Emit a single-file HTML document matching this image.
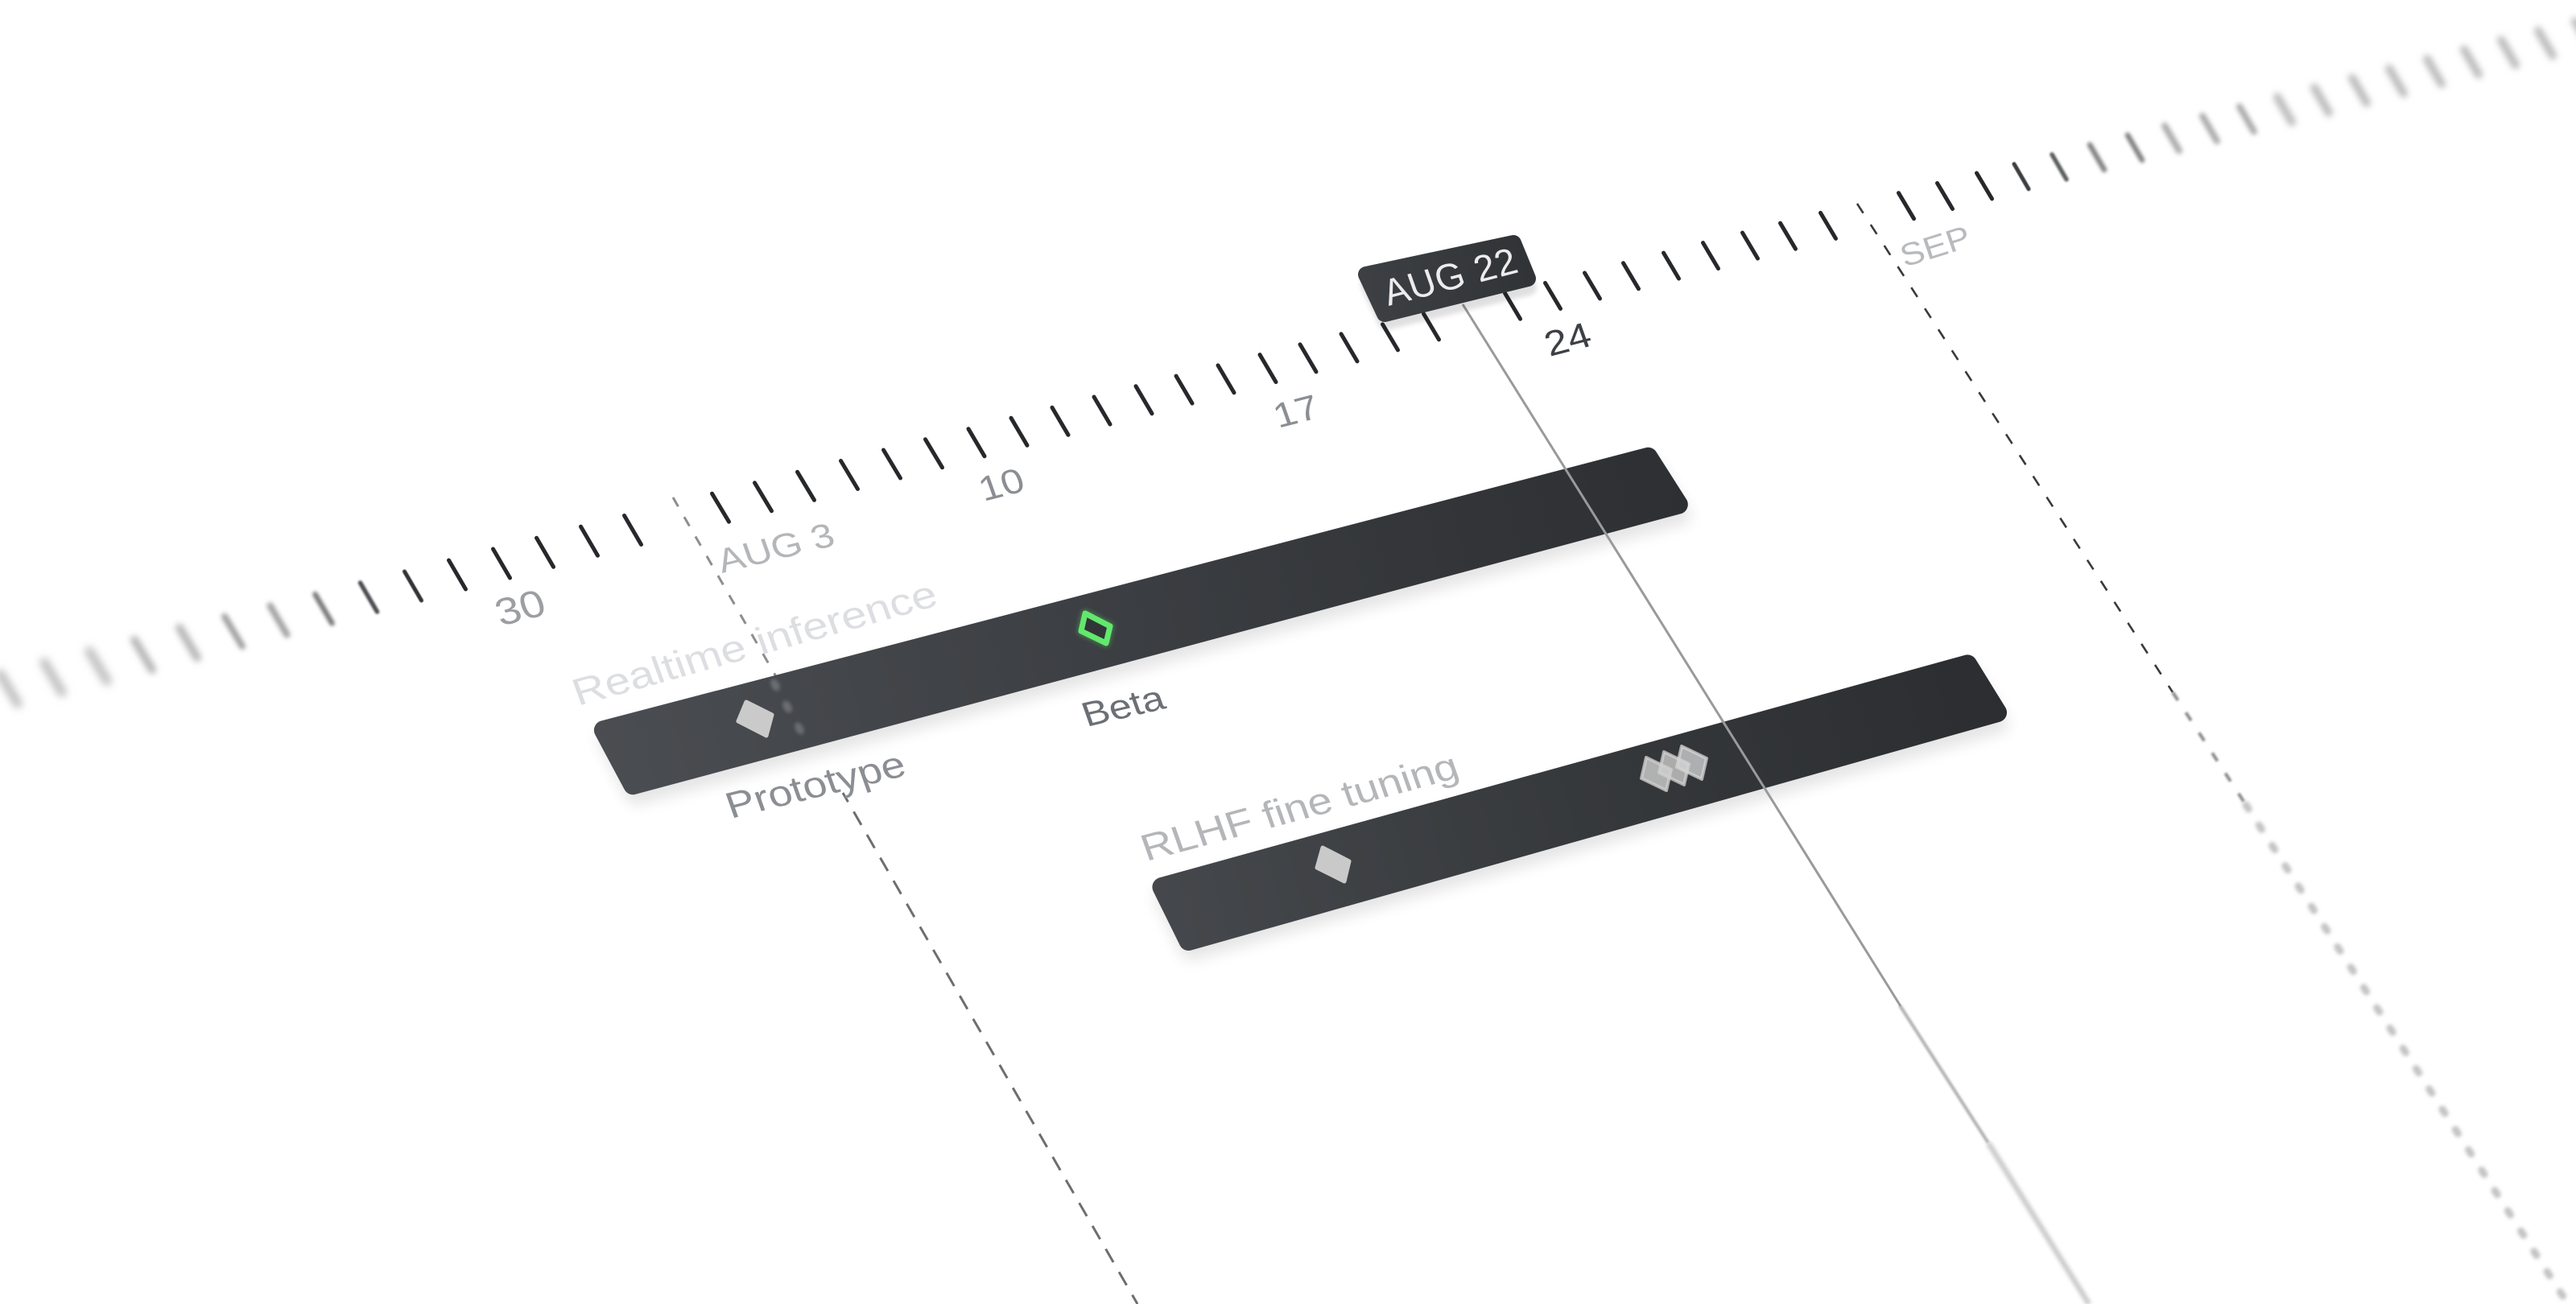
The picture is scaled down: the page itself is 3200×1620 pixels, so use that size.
<!DOCTYPE html>
<html><head><meta charset="utf-8">
<style>
html,body{margin:0;padding:0;background:#fff;width:3200px;height:1620px;overflow:hidden}
svg{display:block}
text{font-family:"Liberation Sans",Arial,sans-serif}
</style></head>
<body>
<svg width="3200" height="1620" viewBox="0 0 3200 1620" xmlns="http://www.w3.org/2000/svg">
<defs>
  <filter id="f05" filterUnits="userSpaceOnUse" x="-100" y="-100" width="3400" height="1820"><feGaussianBlur stdDeviation="0.6"/></filter>
  <filter id="f1" filterUnits="userSpaceOnUse" x="-100" y="-100" width="3400" height="1820"><feGaussianBlur stdDeviation="1.2"/></filter>
  <filter id="f2" filterUnits="userSpaceOnUse" x="-100" y="-100" width="3400" height="1820"><feGaussianBlur stdDeviation="2"/></filter>
  <filter id="f3" filterUnits="userSpaceOnUse" x="-100" y="-100" width="3400" height="1820"><feGaussianBlur stdDeviation="3"/></filter>
  <filter id="f4" filterUnits="userSpaceOnUse" x="-100" y="-100" width="3400" height="1820"><feGaussianBlur stdDeviation="4"/></filter>
  <filter id="f5" filterUnits="userSpaceOnUse" x="-100" y="-100" width="3400" height="1820"><feGaussianBlur stdDeviation="5"/></filter>
  <filter id="fs" filterUnits="userSpaceOnUse" x="-100" y="-100" width="3400" height="1820"><feGaussianBlur stdDeviation="9"/></filter>
  <linearGradient id="g1" gradientUnits="userSpaceOnUse" x1="740" y1="940" x2="2096" y2="600">
    <stop offset="0" stop-color="#4a4d51"/>
    <stop offset="0.45" stop-color="#3c3f43"/>
    <stop offset="1" stop-color="#2d2f32"/>
  </linearGradient>
  <linearGradient id="g2" gradientUnits="userSpaceOnUse" x1="1431" y1="1140" x2="2490" y2="850">
    <stop offset="0" stop-color="#45484c"/>
    <stop offset="0.5" stop-color="#36393c"/>
    <stop offset="1" stop-color="#2b2d30"/>
  </linearGradient>
  <linearGradient id="gb" gradientUnits="userSpaceOnUse" x1="1685" y1="370" x2="1910" y2="320">
    <stop offset="0" stop-color="#3d4044"/>
    <stop offset="1" stop-color="#303336"/>
  </linearGradient>
</defs>

<rect width="3200" height="1620" fill="#fff"/>

<!-- ===== ticks, left blurred ===== -->
<g stroke-linecap="round" fill="none">
  <g stroke="#bdbdbd" stroke-width="11" filter="url(#f5)">
    <line x1="0" y1="837" x2="22" y2="874"/>
    <line x1="55" y1="823" x2="77" y2="860"/>
    <line x1="111" y1="809" x2="133" y2="846"/>
  </g>
  <g stroke="#b5b5b5" stroke-width="10" filter="url(#f4)">
    <line x1="167" y1="795" x2="189" y2="832"/>
    <line x1="223" y1="780" x2="245" y2="817"/>
  </g>
  <g stroke="#a0a0a0" stroke-width="8" filter="url(#f3)">
    <line x1="279" y1="766" x2="301" y2="803"/>
    <line x1="335.5" y1="752.5" x2="356.5" y2="788.5"/>
  </g>
  <g stroke="#777" stroke-width="6.5" filter="url(#f2)">
    <line x1="391.5" y1="738.3" x2="412.5" y2="774.3"/>
  </g>
  <g stroke="#4a4c50" stroke-width="5.5" filter="url(#f1)">
    <line x1="447.5" y1="724" x2="468.5" y2="760"/>
  </g>
  <g stroke="#303235" stroke-width="5" filter="url(#f05)">
    <line x1="502.5" y1="710" x2="523.5" y2="746"/>
  </g>
  <!-- sharp ticks -->
  <g stroke="#26282b" stroke-width="5">
    <line x1="557.5" y1="696" x2="578.5" y2="732"/>
    <line x1="612.5" y1="682" x2="633.5" y2="718"/>
    <line x1="666.5" y1="668.3" x2="687.5" y2="704.3"/>
    <line x1="721.5" y1="654.2" x2="742.5" y2="690.2"/>
    <line x1="775.5" y1="640.5" x2="796.5" y2="676.5"/>
    <line x1="884.5" y1="613.2" x2="905.5" y2="648.2"/>
    <line x1="937.5" y1="599.8" x2="958.5" y2="634.8"/>
    <line x1="990.5" y1="586.3" x2="1011.5" y2="621.3"/>
    <line x1="1044.5" y1="572.5" x2="1065.5" y2="607.5"/>
    <line x1="1097.5" y1="559" x2="1118.5" y2="594"/>
    <line x1="1149.5" y1="545.8" x2="1170.5" y2="580.8"/>
    <line x1="1203" y1="532.8" x2="1223" y2="566.8"/>
    <line x1="1256" y1="519.3" x2="1276" y2="553.3"/>
    <line x1="1307" y1="506.3" x2="1327" y2="540.3"/>
    <line x1="1359" y1="493.1" x2="1379" y2="527.1"/>
    <line x1="1411" y1="479.8" x2="1431" y2="513.8"/>
    <line x1="1461" y1="467.1" x2="1481" y2="501.1"/>
    <line x1="1513" y1="453.9" x2="1533" y2="487.9"/>
    <line x1="1565" y1="440.6" x2="1585" y2="474.6"/>
    <line x1="1615" y1="427.9" x2="1635" y2="461.9"/>
    <line x1="1666" y1="414.9" x2="1686" y2="448.9"/>
    <line x1="1717.5" y1="402.9" x2="1736.5" y2="434.9"/>
    <line x1="1768.5" y1="389.9" x2="1787.5" y2="421.9"/>
    <line x1="1869.5" y1="364.2" x2="1888.5" y2="396.2"/>
    <line x1="1919.5" y1="351.5" x2="1938.5" y2="383.5"/>
    <line x1="1968.5" y1="339" x2="1987.5" y2="371"/>
    <line x1="2016.5" y1="326.8" x2="2035.5" y2="358.8"/>
    <line x1="2066.5" y1="314.1" x2="2085.5" y2="346.1"/>
    <line x1="2115.5" y1="301.6" x2="2134.5" y2="333.6"/>
    <line x1="2164.5" y1="289.1" x2="2183.5" y2="321.1"/>
    <line x1="2211.5" y1="277.2" x2="2230.5" y2="309.2"/>
    <line x1="2261.5" y1="264.4" x2="2280.5" y2="296.4"/>
    <line x1="2358.5" y1="239.7" x2="2377.5" y2="271.7"/>
    <line x1="2406.5" y1="227.5" x2="2425.5" y2="259.5"/>
    <line x1="2455.5" y1="215" x2="2474.5" y2="247"/>
  </g>
  <!-- right blurred -->
  <g stroke="#3a3c3f" stroke-width="5" filter="url(#f05)">
    <line x1="2502" y1="203.8" x2="2520" y2="234.8"/>
  </g>
  <g stroke="#5c5e61" stroke-width="5.5" filter="url(#f1)">
    <line x1="2549" y1="191.9" x2="2567" y2="222.9"/>
  </g>
  <g stroke="#808080" stroke-width="6.5" filter="url(#f2)">
    <line x1="2596" y1="179.9" x2="2614" y2="210.9"/>
    <line x1="2643" y1="167.9" x2="2661" y2="198.9"/>
  </g>
  <g stroke="#aaaaaa" stroke-width="8" filter="url(#f3)">
    <line x1="2689" y1="156.2" x2="2707" y2="187.2"/>
    <line x1="2736" y1="144.2" x2="2754" y2="175.2"/>
    <line x1="2782" y1="132.5" x2="2800" y2="163.5"/>
  </g>
  <g stroke="#bbbbbb" stroke-width="10" filter="url(#f4)">
    <line x1="2829" y1="120.6" x2="2847" y2="151.6"/>
    <line x1="2875" y1="108.9" x2="2893" y2="139.9"/>
    <line x1="2922" y1="96.9" x2="2940" y2="127.9"/>
    <line x1="2968" y1="85.2" x2="2986" y2="116.2"/>
    <line x1="3015" y1="73.2" x2="3033" y2="104.2"/>
    <line x1="3061" y1="61.5" x2="3079" y2="92.5"/>
    <line x1="3107" y1="49.8" x2="3125" y2="80.8"/>
    <line x1="3153" y1="38.1" x2="3171" y2="69.1"/>
    <line x1="3199" y1="26.4" x2="3217" y2="57.4"/>
  </g>
</g>

<!-- ===== AUG 3 dashed line ===== -->
<line x1="836" y1="618" x2="1000" y2="903" stroke="#8e8e8e" stroke-width="3" stroke-dasharray="13 15"/>
<line x1="1047" y1="985" x2="1413" y2="1620" stroke="#6e6e6e" stroke-width="3" stroke-dasharray="19 14" stroke-dashoffset="6"/>

<!-- ===== SEP dashed line ===== -->
<line x1="2307" y1="253" x2="2699" y2="860" stroke="#3a3a3a" stroke-width="2.6" stroke-dasharray="14 17"/>
<line x1="2699" y1="860" x2="2790" y2="1000" stroke="#8a8a8a" stroke-width="4" stroke-dasharray="12 18" filter="url(#f1)"/>
<line x1="2790" y1="1000" x2="3190" y2="1620" stroke="#c4c4c4" stroke-width="9" stroke-linecap="round" stroke-dasharray="6 24" filter="url(#f2)"/>

<!-- ===== stem lower (blurred) ===== -->
<line x1="2360" y1="1249" x2="2470" y2="1420" stroke="#b0b0b0" stroke-width="4" filter="url(#f1)"/>
<line x1="2470" y1="1420" x2="2595" y2="1620" stroke="#cdcdcd" stroke-width="7" filter="url(#f2)"/>

<!-- ===== bar shadows ===== -->
<polygon points="754,918 2050,581 2088,640 790,988" fill="#000" opacity="0.10" stroke="#000" stroke-width="24" stroke-linejoin="round" filter="url(#fs)"/>
<polygon points="1446,1114 2446,838 2483,899 1479,1181" fill="#000" opacity="0.10" stroke="#000" stroke-width="24" stroke-linejoin="round" filter="url(#fs)"/>

<!-- ===== bars ===== -->
<polygon points="749.9,907.1 2047.3,567.8 2084.8,626.7 786.3,975.2" fill="url(#g1)" stroke="url(#g1)" stroke-width="24" stroke-linejoin="round"/>
<polygon points="1443.4,1102 2444.1,825.4 2481,885.2 1476.5,1169" fill="url(#g2)" stroke="url(#g2)" stroke-width="24" stroke-linejoin="round"/>

<!-- ghost dashes on bar1 -->
<g fill="#8a8c90" opacity="0.55" filter="url(#f2)">
  <ellipse cx="963" cy="851" rx="5" ry="8" transform="rotate(-28 963 851)"/>
  <ellipse cx="978" cy="878" rx="5" ry="8" transform="rotate(-28 978 878)"/>
  <ellipse cx="993" cy="905" rx="5" ry="8" transform="rotate(-28 993 905)"/>
</g>

<!-- ===== diamonds ===== -->
<polygon points="927,872 959,888 952,914 917,896" fill="#cacaca" stroke="#cacaca" stroke-width="5" stroke-linejoin="round"/>
<polygon points="1643,1053 1676,1070 1670,1095 1636,1078" fill="#c9c9c9" stroke="#c9c9c9" stroke-width="5" stroke-linejoin="round"/>
<g stroke-linejoin="round" stroke-width="4">
  <polygon points="2089,927 2120,942 2114,968 2083,953" fill="#d8d8d8" fill-opacity="0.75" stroke="#d8d8d8" stroke-opacity="0.75"/>
  <polygon points="2067,934 2098,949 2092,975 2061,960" fill="#d4d4d4" fill-opacity="0.75" stroke="#d4d4d4" stroke-opacity="0.75"/>
  <polygon points="2045,941 2076,956 2070,982 2039,967" fill="#d0d0d0" fill-opacity="0.8" stroke="#d0d0d0" stroke-opacity="0.8"/>
</g>
<!-- green diamond -->
<polygon points="1348,762 1379,778 1374,799 1343,784" fill="none" stroke="#5ee46b" stroke-width="10" stroke-linejoin="round" opacity="0.35" filter="url(#f3)"/>
<polygon points="1348,762 1379,778 1374,799 1343,784" fill="#323538" stroke="#62e86c" stroke-width="7" stroke-linejoin="round"/>

<!-- ===== labels ===== -->
<text transform="matrix(0.963 -0.269 0.29 0.80 718 877)" font-size="56" fill="#dcdee1">Realtime inference</text>
<text transform="matrix(0.971 -0.240 0.29 0.82 908 1017)" font-size="53" fill="#8b8e93">Prototype</text>
<text transform="matrix(0.9736 -0.2284 0.29 0.82 1350 903)" font-size="50" fill="#6c6f74">Beta</text>
<text transform="matrix(0.966 -0.259 0.29 0.82 1424 1070)" font-size="54" fill="#b4b6b9">RLHF fine tuning</text>

<text transform="matrix(0.971 -0.239 0.29 0.82 897 712)" font-size="49" fill="#b4b6b9">AUG 3</text>
<text transform="matrix(0.968 -0.25 0.29 0.82 622 778)" font-size="55" fill="#9c9ea2">30</text>
<text transform="matrix(0.968 -0.25 0.29 0.82 1222 623)" font-size="50" fill="#8b8e92">10</text>
<text transform="matrix(0.968 -0.25 0.29 0.82 1588 532)" font-size="50" fill="#8b8e92">17</text>
<text transform="matrix(0.968 -0.25 0.29 0.82 1925 443)" font-size="51" fill="#3d4045">24</text>
<text transform="matrix(0.962 -0.30 0.29 0.85 2366 332)" font-size="44" fill="#b8babd">SEP</text>

<!-- ===== stem upper (over bars) ===== -->
<line x1="1817" y1="378" x2="2361" y2="1250" stroke="#999a9c" stroke-width="3"/>

<!-- ===== AUG 22 box ===== -->
<polygon points="1700,354 1882,313 1899,357 1722,400" fill="#000" opacity="0.12" stroke="#000" stroke-width="20" stroke-linejoin="round" filter="url(#f3)"/>
<polygon points="1697,341 1880,302 1898,346 1720,390" fill="url(#gb)" stroke="url(#gb)" stroke-width="20" stroke-linejoin="round"/>
<text transform="matrix(0.968 -0.25 0.34 0.96 1725 380)" font-size="46" fill="#ececec" letter-spacing="1">AUG 22</text>
</svg>
</body></html>
